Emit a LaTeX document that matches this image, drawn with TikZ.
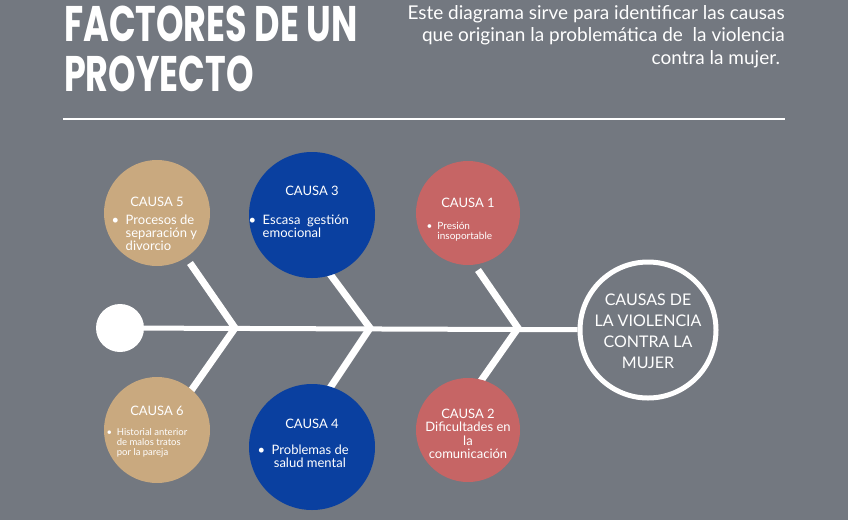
\documentclass[tikz,border=0pt]{standalone}
\usepackage{fontspec}
\setmainfont{Lato}
\newfontfamily\titlefont{Poppins}
\definecolor{bg}{HTML}{737880}
\definecolor{tan}{HTML}{C9A97F}
\definecolor{navy}{HTML}{0A40A0}
\definecolor{rose}{HTML}{C66565}
\begin{document}
\begin{tikzpicture}[x=1pt,y=-1pt,
  circ/.style={circle,inner sep=0pt,minimum size=#1},
  bone/.style={draw=white,line width=7pt},
  txt/.style={text=white,font=\fontsize{13}{13}\selectfont,align=center},
  small/.style={text=white,align=left}]
\fill[bg] (0,0) rectangle (848,520);
\useasboundingbox (0,0) rectangle (848,520);
\node[anchor=north west,text=white,font=\titlefont\bfseries\fontsize{50}{50}\selectfont,align=left,inner sep=0pt,xscale=0.70] (title) at (64,6) {FACTORES DE UN\\PROYECTO};
\node[anchor=north east,text=white,font=\fontsize{19}{22.5}\selectfont,align=right,inner sep=0pt] (sub) at (785,5) {Este diagrama sirve para identificar las causas\\que originan la problemática de\ \ la violencia\\contra la mujer.\ \ };
\coordinate (la) at (63,119); \coordinate (lb) at (785,119);
\draw[white,line width=2pt] (la) -- (lb);
% bones
\coordinate (v1) at (235,328); \coordinate (v2) at (370,328); \coordinate (v3) at (518,328);
\coordinate (t1) at (190,263); \coordinate (b1) at (188,395);
\coordinate (t2) at (327,270); \coordinate (b2) at (330,388);
\coordinate (t3) at (478,270); \coordinate (b3) at (478,385);
\draw[bone] (t1) -- (v1) -- (b1);
\draw[bone] (t2) -- (v2) -- (b2);
\draw[bone] (t3) -- (v3) -- (b3);
\node[circ=48,fill=white] (tail) at (120,328) {};
\node[circ=136,draw=white,line width=5pt,fill=bg] (head) at (648,330) {};
\draw[white,line width=5pt] (tail) -- (head);
\node[txt,font=\fontsize{16}{21}\selectfont] (headt) at (648,331) {CAUSAS DE\\LA VIOLENCIA\\CONTRA LA\\MUJER};
% circles
\node[circ=106,fill=tan] (c5) at (157,213) {};
\node[circ=126,fill=navy] (c3) at (312,215) {};
\node[circ=104,fill=rose] (c1) at (468,213) {};
\node[circ=106,fill=tan] (c6) at (157,430) {};
\node[circ=126,fill=navy] (c4) at (312,447) {};
\node[circ=104,fill=rose] (c2) at (468,430) {};
% texts
\node[txt] (c5h) at (157,202) {CAUSA 5};
\node[small,font=\fontsize{13}{13}\selectfont,anchor=north west] (c5t) at (108,211) {\textbullet\ \ Procesos de\\\phantom{\textbullet\ \ }separación y\\\phantom{\textbullet\ \ }divorcio};
\node[txt] (c3h) at (312,191) {CAUSA 3};
\node[small,font=\fontsize{13}{13}\selectfont,anchor=north west] (c3t) at (245,211) {\textbullet\ \ Escasa\ \ gestión\\\phantom{\textbullet\ \ }emocional};
\node[txt] (c1h) at (468,203) {CAUSA 1};
\node[small,font=\fontsize{10}{10}\selectfont,anchor=north west] (c1t) at (423,219) {\textbullet\ \ Presión\\\phantom{\textbullet\ \ }insoportable};
\node[txt] (c6h) at (157,411) {CAUSA 6};
\node[small,font=\fontsize{9.5}{10}\selectfont,anchor=north west] (c6t) at (103,425) {\textbullet\ \ Historial anterior\\\phantom{\textbullet\ \ }de malos tratos\\\phantom{\textbullet\ \ }por la pareja};
\node[txt] (c4h) at (312,424) {CAUSA 4};
\node[small,font=\fontsize{13}{13}\selectfont,anchor=north west] (c4t) at (254,441) {\textbullet\ \ Problemas de\\\phantom{\textbullet\ \ \,}salud mental};
\node[txt,font=\fontsize{13}{13.5}\selectfont] (c2t) at (468,434) {CAUSA 2\\Dificultades en\\la\\comunicación};
\end{tikzpicture}
\end{document}
